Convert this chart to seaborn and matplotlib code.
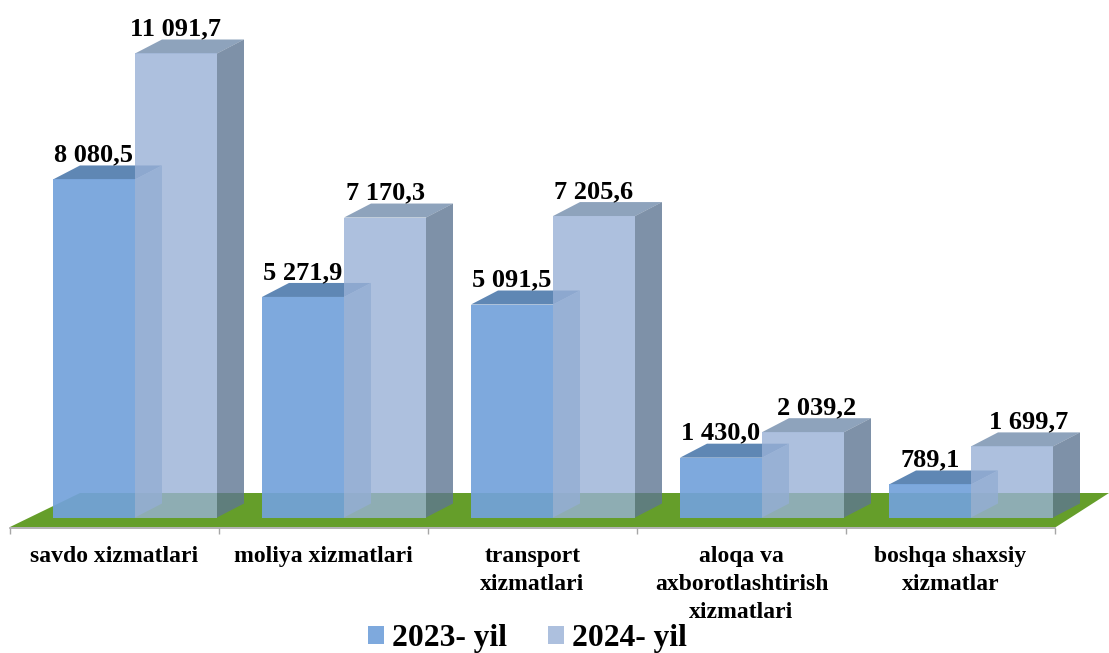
import numpy as np
import pandas as pd
import seaborn as sns
import matplotlib.pyplot as plt
from matplotlib.patches import Patch

categories = ["savdo xizmatlari", "moliya xizmatlari", "transport\nxizmatlari",
              "aloqa va\naxborotlashtirish\nxizmatlari", "boshqa shaxsiy\nxizmatlar"]
years = ["2023- yil", "2024- yil"]
values_2023 = [8080.5, 5271.9, 5091.5, 1430.0, 789.1]
values_2024 = [11091.7, 7170.3, 7205.6, 2039.2, 1699.7]

# long table for seaborn
df = pd.DataFrame({
    "xizmat": categories * 2,
    "yil": [years[0]] * 5 + [years[1]] * 5,
    "qiymat": values_2023 + values_2024,
})

sns.set_style("white")
plt.rcParams["font.family"] = ["Liberation Serif", "DejaVu Serif"]

W, H = 1109, 653
fig = plt.figure(figsize=(W / 100, H / 100), dpi=100)
ax = fig.add_axes([0, 0, 1, 1])

# pixels per category / per unit of value
px_x = 209
px_y = 464 / 11091.7
base_x, base_y = 135, 517.5
depth_x, depth_y = 27 / px_x, 14 / px_y
alpha = 0.8

front_colors = {years[0]: "#73a2db", years[1]: "#99b1d6"}
front_alpha = {years[0]: 0.92, years[1]: 0.8}
top_colors = {years[0]: "#3769a2", years[1]: "#728cac"}
side_colors = {years[0]: "#7f9fcb", years[1]: "#5e7692"}

sns.barplot(data=df, x="xizmat", y="qiymat", hue="yil", order=categories, hue_order=years,
            palette=front_colors, width=164 / px_x, gap=0, saturation=1,
            linewidth=0, legend=False, ax=ax)

ax.set_xlim(-base_x / px_x, (W - base_x) / px_x)
ax.set_ylim((base_y - H) / px_y, base_y / px_y)
ax.set_xlabel("")
ax.set_ylabel("")
ax.set_yticks([])


def to_x(px):
    return (px - base_x) / px_x


def to_y(py):
    return (base_y - py) / px_y


# green floor
floor_x = [to_x(10), to_x(1056), to_x(1109), to_x(80)]
floor_y = [to_y(527), to_y(527), to_y(493), to_y(493)]
ax.fill(floor_x, floor_y, color="#659e2a", lw=0, zorder=1)

# top and side faces come from the bars seaborn drew
for year, container, z in zip(years, ax.containers, [3, 6]):
    for bar in container:
        bar.set_zorder(z + 1)
        bar.set_alpha(front_alpha[year])
        x0 = bar.get_x()
        x1 = x0 + bar.get_width()
        h = bar.get_height()
        ax.fill([x0, x1, x1 + depth_x, x0 + depth_x], [h, h, h + depth_y, h + depth_y],
                color=top_colors[year], alpha=alpha, lw=0, zorder=z)
        ax.fill([x1, x1 + depth_x, x1 + depth_x, x1], [0, depth_y, h + depth_y, h],
                color=side_colors[year], alpha=alpha, lw=0, zorder=z)

# value labels, last two of 2024 sit a bit to the right
label_shift = {years[0]: [0, 0, 0, 0, 0], years[1]: [0, 0, 0, 14, 17]}
for year, container in zip(years, ax.containers):
    for bar, dx in zip(container, label_shift[year]):
        h = bar.get_height()
        txt = f"{h:,.1f}".replace(",", " ").replace(".", ",")
        ax.annotate(txt, (bar.get_x() + bar.get_width() / 2, h), xytext=(dx * 0.72, 13),
                    textcoords="offset points", ha="center", va="baseline",
                    fontsize=19, fontweight="bold", color="black", zorder=10)

# axis line, ticks between groups and labels under them
tick_pos = to_x(10) + np.arange(6)
ax.spines[["top", "left", "right"]].set_visible(False)
ax.spines["bottom"].set_position(("data", to_y(528)))
ax.spines["bottom"].set_bounds(tick_pos[0], tick_pos[-1])
ax.spines["bottom"].set_color("#a6a6a6")
ax.spines["bottom"].set_linewidth(1.2)
ax.set_xticks(tick_pos, [""] * 6)
ax.set_xticks(tick_pos[:-1] + 0.5, categories, minor=True)
ax.tick_params(axis="x", which="major", bottom=True, length=4, width=1, color="#a6a6a6")
ax.tick_params(axis="x", which="minor", bottom=False, length=0, pad=13, labelsize=17)
for label in ax.get_xticklabels(minor=True):
    label.set_fontweight("bold")
    label.set_color("black")
    label.set_linespacing(1.43)
    label.set_va("top")

handles = [Patch(color=front_colors[y], alpha=front_alpha[y], lw=0) for y in years]
ax.legend(handles, years, ncol=2, loc="lower center", bbox_to_anchor=(527 / W, 0.0), frameon=False,
          prop={"size": 22.7, "weight": "bold"}, labelcolor="black", handlelength=0.51, handleheight=0.51,
          handletextpad=0.25, columnspacing=1.3, borderpad=0, borderaxespad=0)

fig.savefig("out.png", dpi=100)
